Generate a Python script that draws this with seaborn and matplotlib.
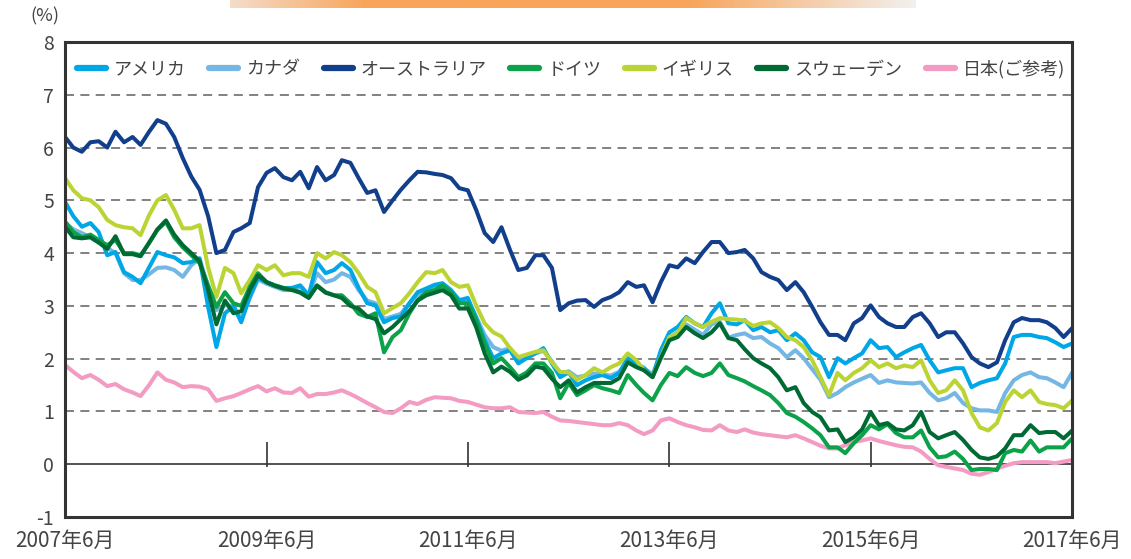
import numpy as np
import pandas as pd
import seaborn as sns
import matplotlib.pyplot as plt
from matplotlib.lines import Line2D

# monthly 10y government bond yields, 2007/6 - 2017/6
months = pd.date_range('2007-06-01', periods=121, freq='MS')

usa = [4.97, 4.7, 4.5, 4.57, 4.4, 3.96, 4.02, 3.64, 3.55, 3.43, 3.73, 4.02, 3.96, 3.92, 3.81, 3.83, 3.9, 2.98, 2.22, 2.86,
       3.0, 2.69, 3.17, 3.53, 3.45, 3.39, 3.34, 3.34, 3.39, 3.2, 3.83, 3.62, 3.68, 3.81, 3.68, 3.34, 3.05, 3.01, 2.69, 2.77,
       2.8, 3.05, 3.26, 3.33, 3.4, 3.43, 3.3, 3.11, 3.15, 2.77, 2.35, 2.01, 2.1, 2.16, 1.91, 2.01, 2.1, 2.2, 1.91, 1.65,
       1.74, 1.5, 1.59, 1.65, 1.69, 1.63, 1.73, 2.01, 1.91, 1.82, 1.65, 2.16, 2.5, 2.6, 2.79, 2.67, 2.6, 2.86, 3.05, 2.67,
       2.65, 2.73, 2.54, 2.6, 2.5, 2.54, 2.35, 2.48, 2.35, 2.12, 2.03, 1.65, 2.01, 1.91, 2.01, 2.1, 2.35, 2.2, 2.22, 2.03,
       2.12, 2.2, 2.26, 1.97, 1.74, 1.78, 1.82, 1.82, 1.46, 1.54, 1.59, 1.63, 1.91, 2.41, 2.45, 2.45, 2.41, 2.39, 2.31, 2.22,
       2.29]
canada = [4.57, 4.45, 4.38, 4.3, 4.2, 4.1, 4.0, 3.62, 3.49, 3.49, 3.6, 3.72, 3.73, 3.68, 3.55, 3.77, 3.9, 3.36, 2.92, 3.01,
          3.0, 2.75, 3.15, 3.5, 3.42, 3.36, 3.3, 3.3, 3.36, 3.2, 3.62, 3.45, 3.5, 3.62, 3.55, 3.3, 3.1, 3.05, 2.75, 2.8,
          2.85, 3.05, 3.22, 3.3, 3.36, 3.4, 3.28, 3.1, 3.12, 2.8, 2.45, 2.22, 2.15, 2.2, 1.98, 2.03, 2.1, 2.15, 1.95, 1.72,
          1.76, 1.65, 1.68, 1.72, 1.7, 1.68, 1.75, 1.95, 1.9, 1.82, 1.7, 2.1, 2.4, 2.5, 2.65, 2.55, 2.45, 2.65, 2.7, 2.4,
          2.45, 2.48, 2.39, 2.41, 2.29, 2.2, 2.03, 2.16, 2.01, 1.8, 1.6, 1.27, 1.35, 1.46, 1.55, 1.62, 1.69, 1.54, 1.59, 1.55,
          1.54, 1.53, 1.55, 1.35, 1.21, 1.25, 1.35, 1.16, 1.06, 1.02, 1.02, 0.99, 1.35, 1.59, 1.69, 1.74, 1.65, 1.63, 1.55, 1.46,
          1.74]
australia = [6.2, 6.0, 5.92, 6.1, 6.12, 6.0, 6.3, 6.1, 6.2, 6.05, 6.3, 6.52, 6.45, 6.2, 5.8, 5.45, 5.2, 4.7, 4.0, 4.06,
             4.4, 4.47, 4.57, 5.25, 5.52, 5.61, 5.44, 5.38, 5.54, 5.23, 5.63, 5.38, 5.48, 5.76, 5.71, 5.42, 5.14, 5.19, 4.78, 5.0,
             5.2, 5.38, 5.54, 5.53, 5.5, 5.48, 5.42, 5.23, 5.19, 4.82, 4.38, 4.21, 4.49, 4.06, 3.68, 3.72, 3.96, 3.96, 3.72, 2.92,
             3.05, 3.1, 3.11, 2.98, 3.11, 3.17, 3.26, 3.45, 3.36, 3.39, 3.07, 3.45, 3.77, 3.73, 3.9, 3.81, 4.02, 4.21, 4.21, 4.0,
             4.02, 4.06, 3.9, 3.64, 3.55, 3.49, 3.3, 3.45, 3.26, 2.98, 2.69, 2.45, 2.45, 2.35, 2.67, 2.77, 3.01, 2.79, 2.67, 2.6,
             2.6, 2.79, 2.86, 2.67, 2.41, 2.5, 2.5, 2.29, 2.03, 1.91, 1.84, 1.93, 2.35, 2.69, 2.77, 2.73, 2.73, 2.69, 2.58, 2.41,
             2.58]
germany = [4.6, 4.4, 4.3, 4.35, 4.25, 4.15, 4.25, 4.0, 4.0, 3.96, 4.19, 4.44, 4.59, 4.3, 4.11, 3.96, 3.81, 3.39, 2.98, 3.26,
           3.05, 3.0, 3.36, 3.62, 3.45, 3.39, 3.34, 3.31, 3.26, 3.17, 3.39, 3.26, 3.2, 3.2, 3.05, 2.85, 2.79, 2.86, 2.12, 2.41,
           2.54, 2.86, 3.11, 3.26, 3.3, 3.39, 3.26, 3.05, 3.05, 2.73, 2.29, 1.91, 2.01, 1.84, 1.65, 1.74, 1.91, 1.91, 1.73, 1.25,
           1.54, 1.31, 1.4, 1.5, 1.44, 1.4, 1.35, 1.69, 1.5, 1.35, 1.21, 1.5, 1.73, 1.67, 1.84, 1.73, 1.67, 1.73, 1.91, 1.69,
           1.63, 1.57, 1.48, 1.4, 1.31, 1.16, 0.97, 0.9, 0.8, 0.68, 0.55, 0.32, 0.32, 0.21, 0.4, 0.55, 0.74, 0.66, 0.76, 0.59,
           0.51, 0.51, 0.64, 0.32, 0.13, 0.15, 0.24, 0.1, -0.11, -0.09, -0.09, -0.11, 0.21, 0.27, 0.24, 0.45, 0.24, 0.32, 0.32, 0.32,
           0.49]
uk = [5.42, 5.19, 5.04, 5.0, 4.87, 4.63, 4.53, 4.49, 4.47, 4.34, 4.72, 5.0, 5.1, 4.82, 4.47, 4.47, 4.53, 3.73, 3.17, 3.72,
      3.62, 3.24, 3.49, 3.77, 3.68, 3.77, 3.58, 3.62, 3.62, 3.55, 4.0, 3.9, 4.02, 3.96, 3.83, 3.62, 3.36, 3.26, 2.86, 2.96,
      3.05, 3.24, 3.45, 3.64, 3.62, 3.68, 3.45, 3.36, 3.39, 3.01, 2.67, 2.5, 2.42, 2.2, 2.03, 2.08, 2.13, 2.16, 1.93, 1.75,
      1.74, 1.6, 1.69, 1.82, 1.74, 1.84, 1.91, 2.1, 1.97, 1.78, 1.65, 2.03, 2.41, 2.48, 2.77, 2.67, 2.6, 2.7, 2.77, 2.75,
      2.74, 2.72, 2.62, 2.67, 2.69, 2.58, 2.41, 2.35, 2.22, 1.97, 1.65, 1.31, 1.73, 1.59, 1.73, 1.82, 1.97, 1.84, 1.91, 1.82,
      1.87, 1.84, 1.97, 1.59, 1.35, 1.4, 1.59, 1.4, 0.97, 0.7, 0.64, 0.78, 1.18, 1.4, 1.27, 1.4, 1.18, 1.14, 1.12, 1.06,
      1.21]
sweden = [4.5, 4.3, 4.28, 4.3, 4.2, 4.08, 4.32, 3.98, 3.98, 3.94, 4.2, 4.45, 4.62, 4.35, 4.15, 4.0, 3.85, 3.3, 2.65, 3.1,
          2.86, 2.9, 3.3, 3.58, 3.45, 3.38, 3.33, 3.3, 3.25, 3.15, 3.38, 3.25, 3.2, 3.15, 3.0, 2.95, 2.8, 2.75, 2.48, 2.6,
          2.75, 2.9, 3.1, 3.2, 3.25, 3.3, 3.2, 2.95, 2.95, 2.6, 2.1, 1.74, 1.85, 1.75, 1.6, 1.68, 1.85, 1.82, 1.62, 1.46,
          1.59, 1.36, 1.46, 1.54, 1.54, 1.54, 1.63, 1.93, 1.84, 1.78, 1.65, 2.01, 2.35, 2.41, 2.6, 2.48, 2.39, 2.5, 2.67, 2.39,
          2.35, 2.18, 2.01, 1.91, 1.82, 1.65, 1.4, 1.46, 1.16, 0.99, 0.89, 0.64, 0.66, 0.42, 0.51, 0.66, 0.99, 0.74, 0.78, 0.66,
          0.64, 0.74, 0.99, 0.61, 0.49, 0.55, 0.61, 0.46, 0.27, 0.13, 0.1, 0.15, 0.3, 0.55, 0.55, 0.74, 0.59, 0.61, 0.61, 0.49,
          0.64]
japan = [1.88, 1.75, 1.63, 1.69, 1.6, 1.48, 1.52, 1.42, 1.36, 1.29, 1.5, 1.74, 1.6, 1.55, 1.46, 1.48, 1.47, 1.42, 1.2, 1.25,
         1.29, 1.35, 1.42, 1.48, 1.38, 1.44, 1.36, 1.35, 1.44, 1.28, 1.33, 1.33, 1.36, 1.4, 1.33, 1.25, 1.16, 1.08, 0.99, 0.97,
         1.06, 1.18, 1.14, 1.22, 1.27, 1.26, 1.25, 1.2, 1.18, 1.13, 1.08, 1.06, 1.06, 1.08, 0.99, 0.98, 0.97, 0.99, 0.9, 0.83,
         0.82, 0.8, 0.78, 0.76, 0.74, 0.74, 0.78, 0.74, 0.64, 0.57, 0.64, 0.83, 0.87, 0.8, 0.74, 0.7, 0.65, 0.64, 0.74, 0.64,
         0.61, 0.66, 0.6, 0.57, 0.55, 0.53, 0.51, 0.55, 0.49, 0.42, 0.35, 0.3, 0.3, 0.36, 0.42, 0.45, 0.49, 0.44, 0.4, 0.36,
         0.33, 0.32, 0.24, 0.1, -0.02, -0.05, -0.08, -0.11, -0.18, -0.2, -0.15, -0.08, -0.03, 0.02, 0.04, 0.04, 0.04, 0.04, 0.02, 0.05,
         0.08]

names = ['アメリカ', 'カナダ', 'オーストラリア', 'ドイツ', 'イギリス', 'スウェーデン', '日本(ご参考)']
colors = ['#00a7e6', '#74b6e4', '#123f8c', '#0ba24a', '#bcd433', '#006a35', '#f39bc2']
tick_labels = ['2007年6月', '2009年6月', '2011年6月', '2013年6月', '2015年6月', '2017年6月']
tick_dates = pd.to_datetime(['2007-06-01', '2009-06-01', '2011-06-01', '2013-06-01', '2015-06-01', '2017-06-01'])

series = [usa, canada, australia, germany, uk, sweden, japan]
df = pd.concat([pd.DataFrame({'date': months, 'value': s, 'country': n}) for s, n in zip(series, names)])

sns.set_style('white')
plt.rcParams['font.family'] = ['Noto Sans CJK JP', 'DejaVu Sans']
plt.rcParams['axes.unicode_minus'] = False

fig = plt.figure(figsize=(11.31, 5.59), dpi=100)
ax = fig.add_axes([0.0575, 0.0751, 0.8905, 0.8498])

# draw japan first so the others sit on top of it
draw_order = [6, 2, 1, 0, 4, 3, 5]
sns.lineplot(data=df, x='date', y='value', hue='country', hue_order=[names[i] for i in draw_order],
             palette=[colors[i] for i in draw_order], linewidth=2.9, legend=False, ax=ax)

ax.set_xlim(months[0], months[-1])
ax.set_ylim(-1, 8)
ax.set_yticks(range(-1, 9))
ax.set_xticks(tick_dates)
ax.set_xticklabels(tick_labels)
ax.tick_params(axis='x', length=0, pad=9, labelsize=15, labelcolor='#444')
ax.tick_params(axis='y', length=0, pad=8, labelsize=14, labelcolor='#444')
ax.set_xlabel('')
ax.set_ylabel('')

for y in range(1, 8):
    ax.axhline(y, color='#777', lw=1.3, ls=(0, (5, 3.5)), zorder=0)
ax.axhline(0, color='#333', lw=1.2, zorder=1)
ax.vlines(tick_dates[1:-1], -0.05, 0.42, color='#333', lw=1.2, zorder=1)

for sp in ax.spines.values():
    sp.set_color('#333')
    sp.set_linewidth(2.2)

handles = [Line2D([0], [0], color=c, lw=4.5, solid_capstyle='round') for c in colors]
leg = ax.legend(handles, names, loc='upper left', bbox_to_anchor=(0.001, 0.985), ncol=7, frameon=False,
                fontsize=13, handlelength=1.6, handletextpad=0.45, columnspacing=1.3, borderaxespad=0.2)
for t in leg.get_texts():
    t.set_color('#444')

fig.text(0.027, 0.97, '(%)', fontsize=13, color='#444', ha='left', va='center')

# orange banner strip at the top edge
bax = fig.add_axes([0.203, 0.985, 0.606, 0.015])
grad = np.concatenate([np.linspace(0.25, 1, 60), np.ones(140), np.linspace(1, 0.0, 100)])
bax.imshow(grad[np.newaxis, :], aspect='auto', cmap=sns.light_palette('#f8a55a', as_cmap=True), vmin=0, vmax=1)
bax.axis('off')

fig.savefig('out.png', dpi=100)
